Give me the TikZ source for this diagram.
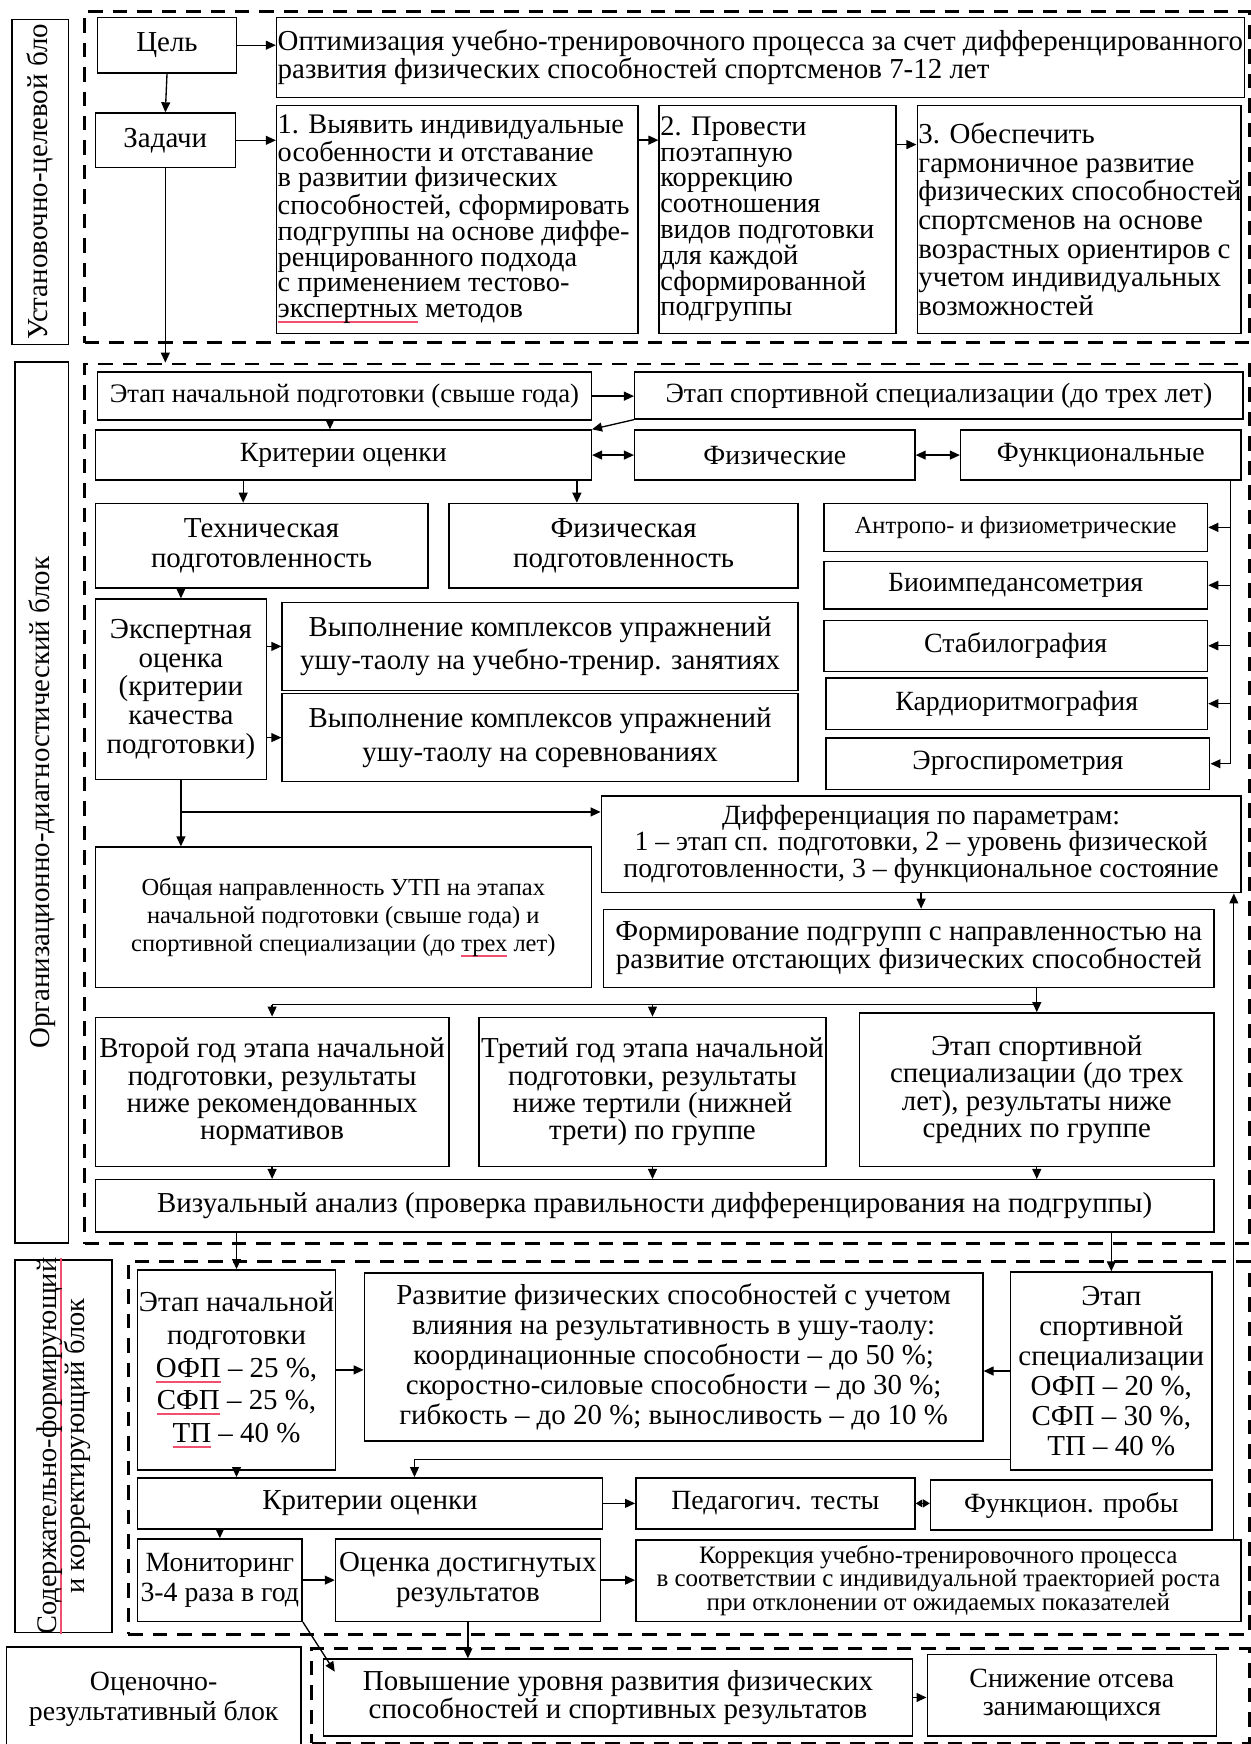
\documentclass[tikz,border=0pt]{standalone}
\usepackage{fontspec}
\setmainfont{Liberation Serif}
\usetikzlibrary{arrows.meta}

\newcommand\fs[2]{\fontsize{#1}{#2}\selectfont}
\definecolor{ulred}{HTML}{F0506E}
\newsavebox\ulbox
% word with a red mark beneath it
\newcommand\redul[1]{\sbox\ulbox{#1}\rlap{\textcolor{ulred}{\rule[-5pt]{\wd\ulbox}{1.8pt}}}\usebox\ulbox}

% box given by its corners: [options]{name}{x1}{y1}{x2}{y2}{text}
\newcommand\bx[7][]{\node[box, anchor=north west,
  minimum width={(#5-#3)*1pt}, minimum height={(#6-#4)*1pt}, #1] (#2) at (#3,#4) {#7};}
% same, with the text flush left
\newcommand\lbx[7][]{\node[box, anchor=north west,
  minimum width={(#5-#3)*1pt}, minimum height={(#6-#4)*1pt},
  label={[lbl,#1]west:{#7}}] (#2) at (#3,#4) {};}

\begin{document}
\begin{tikzpicture}[x=1pt,y=-1pt,
  box/.style={draw, line width=1.3pt, inner sep=1pt, align=center},
  blk/.style={draw, line width=2.6pt, dash pattern=on 13pt off 9pt},
  arr/.style={line width=1.2pt, -{Triangle[length=9pt,width=8pt]}},
  darr/.style={line width=1.2pt, {Triangle[length=9pt,width=8pt]}-{Triangle[length=9pt,width=8pt]}},
  sdarr/.style={line width=1.2pt, {Triangle[length=6pt,width=7pt]}-{Triangle[length=6pt,width=7pt]}},
  wire/.style={line width=1.2pt},
  lbl/.style={anchor=west, align=left, inner sep=1.5pt},
  rot/.style={rotate=90, align=center, inner sep=0pt}]

\useasboundingbox (0,0) rectangle (1124,1568);
\fill[white] (0,0) rectangle (1124,1568);

% ---------------- block frames ----------------
\bx[blk]{B1}{75}{9}{1122}{307}{}
\bx[blk]{B2}{75}{326}{1122}{1117}{}
\bx[blk]{B3}{114}{1133}{1122}{1468}{}
\bx[blk]{B4}{279}{1481}{1122}{1566}{}

% ---------------- block 1 ----------------
\bx{lab1}{10}{17}{61}{309}{}
\node[rot, font=\fs{26}{24}] (lab1t) at (lab1) {Установочно-целевой бло};
\bx[font=\fs{26}{25}]{cel}{87}{15}{212}{65}{Цель}
\bx[font=\fs{26}{25}]{zad}{85}{101}{211}{150}{Задачи}
\lbx[font=\fs{26}{25}]{goal}{248}{15}{1118}{87}{Оптимизация учебно-тренировочного процесса за счет дифференцированного\\развития физических способностей спортсменов 7-12 лет}
\lbx[font=\fs{25.5}{23.2}]{t1}{248}{94}{573}{299}{1. Выявить индивидуальные\\особенности и отставание\\в развитии физических\\способностей, сформировать\\подгруппы на основе диффе-\\ренцированного подхода\\с применением тестово-\\\redul{экспертных} методов}
\lbx[font=\fs{25.5}{23.2}]{t2}{592}{94}{805}{299}{2. Провести\\поэтапную\\коррекцию\\соотношения\\видов подготовки\\для каждой\\сформированной\\подгруппы}
\lbx[font=\fs{26}{25.7}]{t3}{824}{94}{1115}{299}{3. Обеспечить\\гармоничное развитие\\физических способностей\\спортсменов на основе\\возрастных ориентиров с\\учетом индивидуальных\\возможностей}

\draw[arr] (cel.east) -- (cel.east -| goal.west);
\draw[arr] (cel.south) -- (zad.north);
\draw[arr] (zad.east) -- (zad.east -| t1.west);
\draw[arr] ([yshift=-32pt]t1.north east) -- ([yshift=-32pt]t2.north west);
\draw[arr] ([yshift=-36pt]t2.north east) -- ([yshift=-36pt]t3.north west);
\draw[arr] (zad.south) -- (zad.south |- B2.north);

% ---------------- block 2 ----------------
\bx{lab2}{13}{325}{61}{1117}{}
\node[rot, font=\fs{26}{24}] (lab2t) at (lab2) {Организационно-диагностический блок};
\bx[font=\fs{24}{24}]{etn}{87}{334}{531}{377}{Этап начальной подготовки (свыше года)}
\bx[font=\fs{25}{24}]{ets}{570}{334}{1117}{376}{Этап спортивной специализации (до трех лет)}
\bx[font=\fs{25}{24}]{krit}{85}{386}{531}{431}{Критерии оценки}
\bx[font=\fs{25}{24}]{fiz}{570}{386}{822}{431}{Физические}
\bx[font=\fs{25}{24}]{func}{863}{386}{1115}{431}{Функциональные}
\bx[font=\fs{26}{27}]{tech}{85}{452}{384}{528}{Техническая\\подготовленность}
\bx[font=\fs{26}{27}]{fizp}{403}{452}{717}{528}{Физическая\\подготовленность}
\bx[font=\fs{22}{24}]{anthro}{740}{452}{1085}{495}{Антропо- и физиометрические}
\bx[font=\fs{25}{24}]{bio}{740}{504}{1085}{547}{Биоимпедансометрия}
\bx[font=\fs{25}{24}]{stab}{740}{557}{1085}{603}{Стабилография}
\bx[font=\fs{25}{24}]{kard}{742}{609}{1085}{655}{Кардиоритмография}
\bx[font=\fs{25}{24}]{ergo}{742}{663}{1087}{709}{Эргоспирометрия}
\bx[font=\fs{26}{25.8}]{eksp}{85}{538}{239}{700}{Экспертная\\оценка\\(критерии\\качества\\подготовки)}
\bx[font=\fs{26}{30}]{vyp1}{253}{541}{717}{620}{Выполнение комплексов упражнений\\ушу-таолу на учебно-тренир. занятиях}
\bx[font=\fs{26}{30}]{vyp2}{253}{623}{717}{702}{Выполнение комплексов упражнений\\ушу-таолу на соревнованиях}
\bx[font=\fs{25}{22.5}]{diff}{540}{715}{1115}{802}{Дифференциация по параметрам:\\1 – этап сп. подготовки, 2 – уровень физической\\подготовленности, 3 – функциональное состояние}
\bx[font=\fs{22}{25}]{obsh}{85}{761}{531}{887}{Общая направленность УТП на этапах\\начальной подготовки (свыше года) и\\спортивной специализации (до \redul{трех} лет)}
\bx[font=\fs{26}{25.5}]{form}{542}{817}{1091}{887}{Формирование подгрупп с направленностью на\\развитие отстающих физических способностей}
\bx[font=\fs{26}{24.5}]{vtor}{85}{914}{403}{1048}{Второй год этапа начальной\\подготовки, результаты\\ниже рекомендованных\\нормативов}
\bx[font=\fs{26}{24.5}]{tret}{430}{914}{742}{1048}{Третий год этапа начальной\\подготовки, результаты\\ниже тертили (нижней\\трети) по группе}
\bx[font=\fs{26}{24.5}]{ets3}{772}{910}{1091}{1048}{Этап спортивной\\специализации (до трех\\лет), результаты ниже\\средних по группе}
\bx[font=\fs{26}{24}]{viz}{85}{1060}{1091}{1107}{Визуальный анализ (проверка правильности дифференцирования на подгруппы)}

\draw[arr] (etn.east) -- (etn.east -| ets.west);
\draw[arr] ([xshift=-13pt]etn.south) -- ([xshift=-13pt]etn.south |- krit.north);
\draw[arr] (ets.south west) -- (krit.north east);
\draw[darr] (krit.east) -- (krit.east -| fiz.west);
\draw[darr] (fiz.east) -- (fiz.east -| func.west);
\draw[arr] ([xshift=-90pt]krit.south) -- ([xshift=-90pt]krit.south |- tech.north);
\draw[arr] ([xshift=210pt]krit.south) -- ([xshift=210pt]krit.south |- fizp.north);
\coordinate (fbus) at ([xshift=-10pt]func.south east);
\draw[wire] (fbus) -- (fbus |- ergo.east);
\foreach \b in {anthro,bio,stab,kard,ergo} \draw[arr] (fbus |- \b.east) -- (\b.east);
\draw[arr] (eksp.north |- tech.south) -- (eksp.north);
\draw[arr] (eksp.east |- vyp1.west) -- (vyp1.west);
\draw[arr] (eksp.east |- vyp2.west) -- (vyp2.west);
\draw[arr] (eksp.south) -- (eksp.south |- obsh.north);
\coordinate (dbr) at ([yshift=-15pt]diff.north west);
\draw[arr] (eksp.south |- dbr) -- (dbr);
\draw[arr] (diff.south) -- (diff.south |- form.north);
\coordinate (dist) at ([yshift=-15pt]form.south);
\draw[wire] (form.south -| ets3.north) -- (dist -| ets3.north) -- (dist -| vtor.north);
\foreach \b in {vtor,tret,ets3} \draw[arr] (dist -| \b.north) -- (\b.north);
\foreach \b in {vtor,tret,ets3} \draw[arr] (\b.south) -- (\b.south |- viz.north);

% ---------------- block 3 ----------------
\bx{lab3}{13}{1132}{100}{1467}{}
\node[rot, font=\fs{25.5}{25}] (lab3t) at (lab3) {\redul{Содержательно-формирующий}\\и корректирующий блок};
\bx[font=\fs{26}{29.5}]{etn3}{123}{1141}{301}{1321}{Этап начальной\\подготовки\\\redul{ОФП} – 25 \%,\\\redul{СФП} – 25 \%,\\\redul{ТП} – 40 \%}
\bx[font=\fs{26}{27}]{razv}{327}{1144}{883}{1295}{Развитие физических способностей с учетом\\влияния на результативность в ушу-таолу:\\координационные способности – до 50 \%;\\скоростно-силовые способности – до 30 \%;\\гибкость – до 20 \%; выносливость – до 10 \%}
\bx[font=\fs{26}{27}]{ets3b}{908}{1143}{1089}{1321}{Этап\\спортивной\\специализации\\ОФП – 20 \%,\\СФП – 30 \%,\\ТП – 40 \%}
\bx[font=\fs{26}{24}]{krit3}{123}{1328}{541}{1374}{Критерии оценки}
\bx[font=\fs{25}{24}]{ped}{571}{1328}{822}{1374}{Педагогич. тесты}
\bx[font=\fs{25}{24}]{funp}{836}{1330}{1089}{1375}{Функцион. пробы}
\bx[font=\fs{25}{27}]{mon}{123}{1383}{271}{1457}{Мониторинг\\3-4 раза в год}
\bx[font=\fs{26}{27}]{ots}{301}{1383}{539}{1457}{Оценка достигнутых\\результатов}
\bx[font=\fs{22.5}{19.5}]{korr}{571}{1384}{1115}{1457}{Коррекция учебно-тренировочного процесса\\в соответствии с индивидуальной траекторией роста\\при отклонении от ожидаемых показателей}

\draw[arr] (etn3.north |- viz.south) -- (etn3.north);
\draw[arr] (ets3b.north |- viz.south) -- (ets3b.north);
\draw[arr] (etn3.east) -- (etn3.east -| razv.west);
\draw[arr] (ets3b.west) -- (ets3b.west -| razv.east);
\coordinate (fb) at ([yshift=10pt]ets3b.south west);
\coordinate (kin) at ([xshift=40pt]krit3.north);
\draw[arr] (fb) -| (kin);
\draw[arr] (etn3.south) -- (etn3.south |- krit3.north);
\draw[arr] (krit3.east) -- (krit3.east -| ped.west);
\draw[sdarr] (ped.east) -- (ped.east -| funp.west);
\draw[arr] (mon.north |- krit3.south) -- (mon.north);
\draw[arr] (mon.east) -- (mon.east -| ots.west);
\draw[arr] (ots.east) -- (ots.east -| korr.west);
\coordinate (fbk) at ([xshift=-7pt]korr.north east);
\draw[arr] (fbk) -- (fbk |- diff.south);

% ---------------- block 4 ----------------
\bx[font=\fs{25}{27}]{lab4}{5}{1480}{270}{1575}{Оценочно-\\результативный блок}
\bx[font=\fs{26}{23}]{pov}{290}{1491}{820}{1560}{Повышение уровня развития физических\\способностей и спортивных результатов}
\bx[font=\fs{25}{25}]{sniz}{833}{1487}{1093}{1560}{Снижение отсева\\занимающихся}

\draw[arr] (pov.east) -- (pov.east -| sniz.west);
\draw[arr] (ots.south) -- (ots.south |- pov.north);
\draw[arr] (mon.south east) -- ([xshift=11pt,yshift=-12pt]pov.north west);
\end{tikzpicture}
\end{document}
